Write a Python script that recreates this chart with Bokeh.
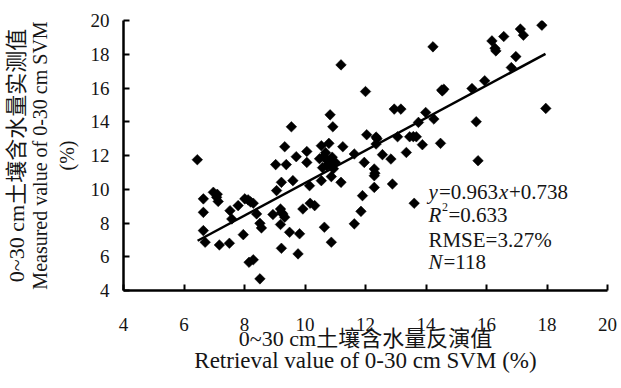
from bokeh.plotting import figure
from bokeh.models import LinearAxis, FixedTicker, Range1d, Label
from bokeh.embed import file_html
from bokeh.resources import INLINE
import numpy as np

# ---- data ----
retrieved = [6.44, 6.64, 6.97, 7.08, 7.13, 6.64, 7.52, 7.58, 7.79, 8.01, 8.12, 8.29, 8.40, 8.51, 8.56,
             8.94, 9.19, 9.27, 9.33, 9.19, 9.49, 9.82, 9.93, 10.17, 10.32, 10.64, 10.87, 11.63, 11.85, 11.90,
             6.64, 6.70, 7.17, 7.50, 7.96, 9.22, 9.77, 8.15, 8.29, 8.51, 9.03, 9.38, 9.22, 9.06, 9.60,
             10.15, 10.54, 10.87, 11.19, 9.71, 10.06, 10.06, 9.33, 10.54, 10.79, 11.25, 11.63, 11.96, 12.04, 12.35,
             11.19, 12.00, 10.83, 10.92, 9.55, 12.35, 10.48, 10.74, 10.58, 10.84, 10.68, 10.94, 12.29, 12.29, 12.29,
             12.89, 12.56, 12.84, 13.35, 13.61, 13.06, 13.46, 13.68, 13.88, 14.48, 13.75, 14.26, 13.99, 12.95, 13.17,
             14.59, 14.54, 14.23, 15.52, 15.94, 15.66, 15.72, 16.82, 16.97, 16.18, 16.31, 16.57, 17.12, 17.22, 17.83,
             17.96, 10.62, 10.72, 10.90, 11.00, 9.22, 8.20, 7.10, 12.31, 12.38, 13.58, 16.28, 14.52]
measured = [11.75, 9.43, 9.82, 9.52, 9.28, 8.63, 8.73, 8.24, 9.03, 9.43, 9.37, 9.17, 8.54, 7.98, 7.71,
            8.50, 8.83, 8.54, 8.34, 7.91, 7.45, 7.36, 8.83, 9.17, 9.03, 7.75, 6.86, 7.95, 8.69, 9.62,
            7.55, 6.86, 6.70, 6.80, 7.31, 6.50, 6.17, 5.67, 5.82, 4.69, 11.46, 11.46, 10.41, 9.92, 10.51,
            10.21, 10.51, 10.75, 10.41, 11.93, 11.59, 12.24, 12.52, 12.58, 12.72, 12.52, 12.09, 11.59, 13.23, 12.68,
            17.37, 15.79, 14.41, 13.70, 13.70, 13.09, 11.81, 11.69, 11.28, 11.46, 12.17, 11.22, 11.20, 10.80, 10.11,
            10.31, 12.05, 11.79, 12.18, 9.17, 13.11, 13.11, 13.11, 12.64, 12.72, 13.96, 14.16, 14.55, 14.75, 14.75,
            15.93, 15.83, 18.44, 15.97, 16.43, 14.00, 11.69, 17.21, 17.86, 18.79, 18.20, 19.05, 19.49, 19.13, 19.72,
            14.79, 11.95, 11.40, 11.90, 11.60, 8.62, 9.25, 9.70, 10.95, 13.00, 13.12, 18.35, 15.88]
slope = 0.963
intercept = 0.738
fit_x = [6.45, 17.95]
ticks = [4, 6, 8, 10, 12, 14, 16, 18, 20]
xlabel1 = "0~30 cm土壤含水量反演值"
xlabel2 = "Retrieval value of 0-30 cm SVM (%)"
ylabel1 = "0~30 cm土壤含水量实测值"
ylabel2 = "Measured value of 0-30 cm SVM"
ylabel3 = "(%)"

SERIF = "'Liberation Serif', 'Noto Sans CJK SC'"
TXT = "#151515"

p = figure(width=617, height=378, x_range=Range1d(4, 20), y_range=Range1d(4, 20),
           output_backend="svg", toolbar_location=None,
           min_border_left=123, min_border_right=10, min_border_top=20, min_border_bottom=88)
p.outline_line_color = None
p.grid.visible = False
p.background_fill_color = "white"
p.border_fill_color = "white"

for ax in (p.xaxis[0], p.yaxis[0]):
    ax.ticker = FixedTicker(ticks=ticks)
    ax.axis_line_color = "black"
    ax.axis_line_width = 2.5
    ax.major_tick_line_color = "black"
    ax.major_tick_line_width = 2
    ax.major_tick_in = 6
    ax.major_tick_out = 0
    ax.minor_tick_line_color = None
    ax.major_label_text_font = SERIF
    ax.major_label_text_font_size = "19px"
    ax.major_label_text_color = TXT
    ax.axis_label_text_font = SERIF
    ax.axis_label_text_font_style = "normal"
    ax.axis_label_text_color = TXT

xa = p.xaxis[0]
xa.major_label_standoff = 27
xa.axis_label = xlabel1
xa.axis_label_text_font_size = "22px"
xa.axis_label_standoff = -8

ya = p.yaxis[0]
ya.major_label_standoff = 14
ya.axis_label = ylabel3
ya.axis_label_text_font_size = "20px"
ya.axis_label_standoff = 10


def extra_axis(label, standoff, size="20px"):
    a = LinearAxis(ticker=FixedTicker(ticks=[]), axis_label=label,
                   axis_line_color=None, major_tick_line_color=None, minor_tick_line_color=None,
                   major_tick_in=0, major_tick_out=0, major_label_standoff=0,
                   axis_label_standoff=standoff, axis_label_text_font=SERIF,
                   axis_label_text_font_style="normal", axis_label_text_font_size=size,
                   axis_label_text_color=TXT)
    return a


p.add_layout(extra_axis(xlabel2, -6, "23px"), "below")
p.add_layout(extra_axis(ylabel2, 2, "20px"), "left")
p.add_layout(extra_axis(ylabel1, -3, "22px"), "left")

# scatter
p.scatter(retrieved, measured, marker="square", size=7.5, angle=np.pi / 4,
          fill_color="black", line_color="black", line_width=0.5)

# regression line
fit_y = [slope * v + intercept for v in fit_x]
p.line(fit_x, fit_y, line_color="black", line_width=2.5)

# statistics text
FS = "21px"
X0 = 14.08


def lab(y, text, dx=0, dy=0, italic=False, size=FS):
    p.add_layout(Label(x=X0, y=y, x_offset=dx, y_offset=dy, text=text,
                       text_font="Liberation Serif", text_font_size=size,
                       text_font_style="italic" if italic else "normal",
                       text_color=TXT, text_baseline="alphabetic", text_align="left"))


y1, y2, y3, y4 = 9.86, 8.5, 7.0, 5.66
lab(y1, "y", 0, italic=True)
lab(y1, "=0.963", 10.5)
lab(y1, "x", 70.5, italic=True)
lab(y1, "+0.738", 80.5)
lab(y2, "R", 0, italic=True)
lab(y2, "2", 13.5, 8, size="12px")
lab(y2, "=0.633", 20)
lab(y3, "RMSE=3.27%", 0)
lab(y4, "N", 0, italic=True)
lab(y4, "=118", 15)

open("out.html", "w").write(file_html(p, INLINE))
